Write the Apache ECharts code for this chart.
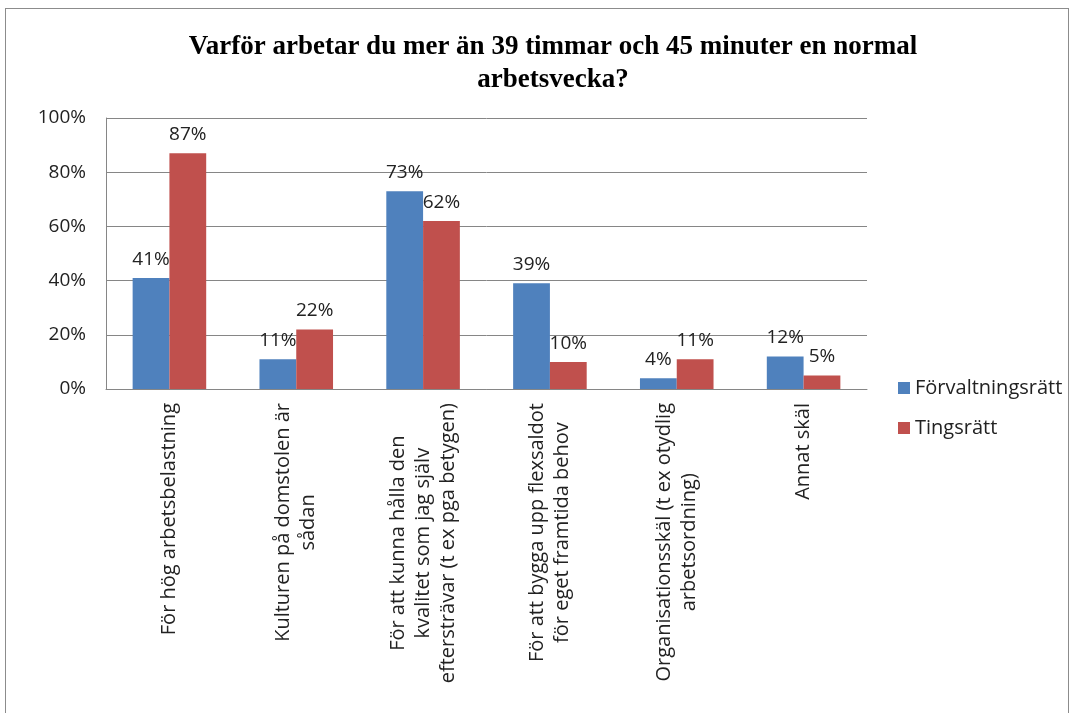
<!DOCTYPE html>
<html>
<head>
<meta charset="utf-8">
<script src="https://cdn.jsdelivr.net/npm/echarts@6/dist/echarts.min.js"></script>
<style>
html, body { margin: 0; padding: 0; background: #fff; }
#frame { position: absolute; left: 5px; top: 8px; width: 1062px; height: 720px; border: 1px solid #8c8c8c; }
#main { position: absolute; left: 0; top: 0; width: 1075px; height: 713px; }
</style>
</head>
<body>
<div id="frame"></div>
<div id="main"></div>
<script>
var categories = [
  'För hög arbetsbelastning',
  'Kulturen på domstolen är\nsådan',
  'För att kunna hålla den\nkvalitet som jag själv\neftersträvar (t ex pga betygen)',
  'För att bygga upp flexsaldot\nför eget framtida behov',
  'Organisationsskäl (t ex otydlig\narbetsordning)',
  'Annat skäl'
];
var forvaltningsratt = [41, 11, 73, 39, 4, 12];
var tingsratt = [87, 22, 62, 10, 11, 5];
var yTicks = [0, 20, 40, 60, 80, 100];

var labelFont = '"Open Sans", "Liberation Sans", sans-serif';

var myChart = echarts.init(document.getElementById('main'));
var option = {
  animation: false,
  title: {
    text: 'Varför arbetar du mer än 39 timmar och 45 minuter en normal\narbetsvecka?',
    left: 548,
    textAlign: 'center',
    top: 26,
    textStyle: {
      fontFamily: '"Liberation Serif", "DejaVu Serif", serif',
      fontWeight: 'bold',
      fontSize: 27,
      lineHeight: 33,
      color: '#000'
    }
  },
  legend: {
    orient: 'vertical',
    left: 893,
    top: 373,
    itemWidth: 12,
    itemHeight: 12,
    itemGap: 20,
    icon: 'rect',
    textStyle: { fontFamily: labelFont, fontSize: 20, color: '#222' },
    data: ['Förvaltningsrätt', 'Tingsrätt']
  },
  grid: { left: 106, right: 208, top: 118, bottom: 324 },
  xAxis: {
    type: 'category',
    data: categories,
    axisLine: { lineStyle: { color: '#868686' } },
    axisTick: { show: false },
    axisLabel: {
      interval: 0,
      rotate: 90,
      margin: 14,
      color: '#222',
      fontFamily: labelFont,
      fontSize: 20,
      formatter: function (v) {
        return v.split('\n').map(function (s) { return '{c|' + s + '}'; }).join('\n');
      },
      rich: {
        c: { align: 'center', fontFamily: labelFont, fontSize: 20, lineHeight: 25, color: '#222' }
      }
    }
  },
  yAxis: {
    type: 'value',
    min: yTicks[0],
    max: yTicks[yTicks.length - 1],
    interval: 20,
    axisLine: { show: true, lineStyle: { color: '#868686' } },
    axisTick: { show: false },
    splitLine: { lineStyle: { color: '#868686' } },
    axisLabel: {
      margin: 20,
      color: '#222',
      fontFamily: labelFont,
      fontSize: 19,
      formatter: '{value}%'
    }
  },
  series: [
    {
      name: 'Förvaltningsrätt',
      type: 'bar',
      data: forvaltningsratt,
      barGap: '0%',
      barCategoryGap: '42%',
      itemStyle: { color: '#4f81bd' },
      label: {
        show: true, position: 'top', distance: 9, formatter: '{c}%',
        fontFamily: labelFont, fontSize: 19, color: '#222'
      }
    },
    {
      name: 'Tingsrätt',
      type: 'bar',
      data: tingsratt,
      itemStyle: { color: '#c0504d' },
      label: {
        show: true, position: 'top', distance: 9, formatter: '{c}%',
        fontFamily: labelFont, fontSize: 19, color: '#222'
      }
    }
  ]
};
myChart.setOption(option);
</script>
</body>
</html>
